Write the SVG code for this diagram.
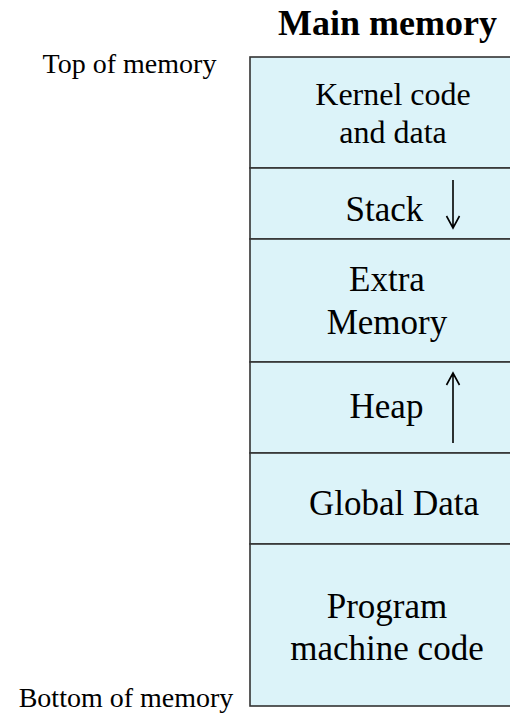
<svg xmlns="http://www.w3.org/2000/svg" width="510" height="716" viewBox="0 0 510 716">
<style>
.t{font-family:"Liberation Serif","Times New Roman",serif;fill:#000;text-anchor:middle}
.seg{fill:#dcf3f9;stroke:#333;stroke-width:1.6}
.ar{stroke:#000;stroke-width:1.6;fill:none}
</style>
<rect x="0" y="0" width="510" height="716" fill="#fff"/>
<text class="t" x="387.5" y="35" font-size="36" font-weight="bold">Main memory</text>
<text class="t" x="129.5" y="73" font-size="28">Top of memory</text>
<text class="t" x="126" y="707" font-size="28">Bottom of memory</text>
<g id="kernel">
<rect class="seg" x="250" y="57" width="270" height="111"/>
<text class="t" x="393" y="105" font-size="32">Kernel code</text>
<text class="t" x="393" y="143" font-size="32">and data</text>
</g>
<g id="stack">
<rect class="seg" x="250" y="168" width="270" height="71"/>
<text class="t" x="384.5" y="221" font-size="35">Stack</text>
</g>
<g id="extra">
<rect class="seg" x="250" y="239" width="270" height="123"/>
<text class="t" x="387" y="291" font-size="35">Extra</text>
<text class="t" x="387" y="334" font-size="35">Memory</text>
</g>
<g id="heap">
<rect class="seg" x="250" y="362" width="270" height="91"/>
<text class="t" x="386.5" y="418" font-size="35">Heap</text>
</g>
<g id="global">
<rect class="seg" x="250" y="453" width="270" height="91"/>
<text class="t" x="394" y="515" font-size="35">Global Data</text>
</g>
<g id="program">
<rect class="seg" x="250" y="544" width="270" height="162"/>
<text class="t" x="387" y="618" font-size="35">Program</text>
<text class="t" x="387" y="660" font-size="35">machine code</text>
</g>
<g id="connectors">
<path class="ar" d="M453 180 V228 M446.5 216 L453 228 L459.5 216"/>
<path class="ar" d="M453 443 V373 M446.5 385 L453 373 L459.5 385"/>
</g>
</svg>
